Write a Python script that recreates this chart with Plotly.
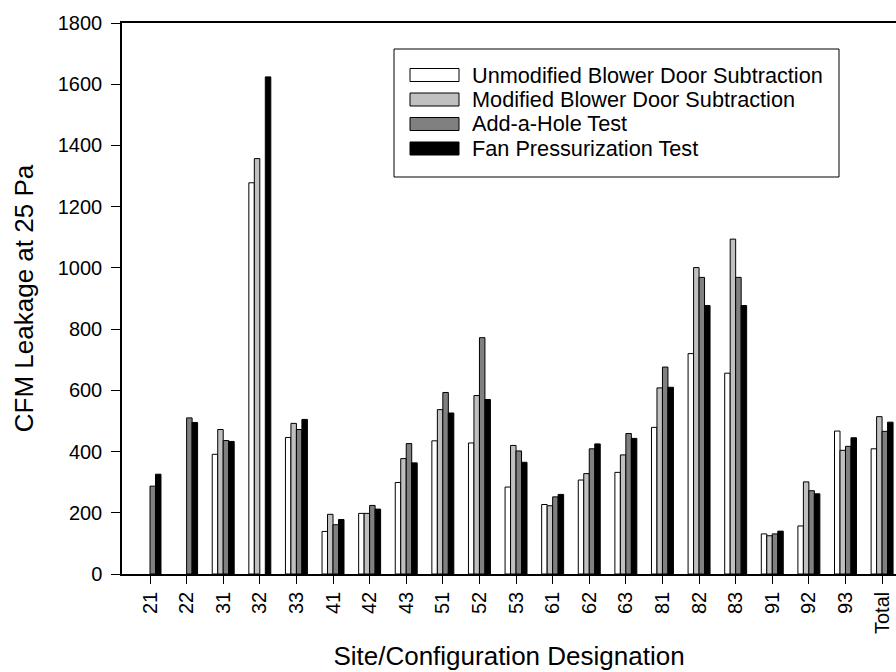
import plotly.graph_objects as go

# Site / configuration designations along the x axis
sites = ["21", "22", "31", "32", "33", "41", "42", "43", "51", "52", "53",
         "61", "62", "63", "81", "82", "83", "91", "92", "93", "Total"]

# Leakage (CFM at 25 Pa) measured by each method; None = not tested
unmodified_bds = [None, None, 391, 1278, 446, 139, 198, 299, 435, 428, 284,
                  227, 307, 332, 479, 720, 656, 131, 157, 467, 409]
modified_bds = [None, None, 472, 1357, 492, 195, 198, 377, 537, 583, 420,
                223, 328, 389, 608, 1001, 1094, 125, 301, 404, 514]
add_a_hole = [287, 510, 436, None, 472, 161, 224, 426, 593, 772, 402,
              252, 409, 459, 676, 969, 969, 131, 272, 417, 466]
fan_pressurization = [326, 495, 433, 1624, 505, 178, 212, 363, 526, 570, 365,
                      260, 425, 443, 610, 877, 877, 140, 262, 445, 496]

series_names = ["Unmodified Blower Door Subtraction",
                "Modified Blower Door Subtraction",
                "Add-a-Hole Test",
                "Fan Pressurization Test"]
series_values = [unmodified_bds, modified_bds, add_a_hole, fan_pressurization]
series_colors = ["#ffffff", "#c0c0c0", "#808080", "#000000"]

FONT = "Liberation Sans, Arial, sans-serif"
W, H = 896, 672
PL, PR, PT, PB = 122, 0, 23, 98  # plot-area margins in pixels

fig = go.Figure()
for name, vals, col in zip(series_names, series_values, series_colors):
    fig.add_trace(go.Bar(
        x=sites, y=vals, name=name,
        marker=dict(color=col, line=dict(color="#000000", width=1)),
        showlegend=False,
    ))


def px_x(px):
    return (px - PL) / (W - PL - PR)


def px_y(py):
    return (H - PB - py) / (H - PT - PB)


# Legend box drawn with wide swatches
shapes = [dict(type="rect", xref="paper", yref="paper",
               x0=px_x(394), x1=px_x(839), y0=px_y(177), y1=px_y(49),
               line=dict(color="#000000", width=1), fillcolor="#ffffff",
               layer="above")]
annotations = []
row_y = [75, 99.5, 124, 148.5]
for name, col, ry in zip(series_names, series_colors, row_y):
    shapes.append(dict(type="rect", xref="paper", yref="paper",
                       x0=px_x(410), x1=px_x(459),
                       y0=px_y(ry + 6.5), y1=px_y(ry - 6.5),
                       line=dict(color="#000000", width=1), fillcolor=col,
                       layer="above"))
    annotations.append(dict(xref="paper", yref="paper", x=px_x(470), y=px_y(ry),
                            text=name, showarrow=False, xanchor="left",
                            yanchor="middle",
                            font=dict(family=FONT, size=21.7, color="#000000")))

fig.update_layout(
    width=W, height=H,
    margin=dict(l=PL, r=PR, t=PT, b=PB, pad=0),
    paper_bgcolor="#ffffff", plot_bgcolor="#ffffff",
    barmode="group", bargap=0.4, bargroupgap=0,
    font=dict(family=FONT, size=20, color="#000000"),
    shapes=shapes, annotations=annotations,
    xaxis=dict(
        type="category", range=[-0.765, 20.38],
        showline=True, linecolor="#000000", linewidth=1.5, mirror=True,
        ticks="outside", ticklen=8, tickwidth=1, tickcolor="#000000",
        tickangle=-90, tickfont=dict(family=FONT, size=20),
        showgrid=False, zeroline=False,
        title=dict(text="Site/Configuration Designation",
                   font=dict(family=FONT, size=26), standoff=14),
    ),
    yaxis=dict(
        range=[0, 1800], dtick=200, tick0=0,
        showline=True, linecolor="#000000", linewidth=1.5,
        ticks="outside", ticklen=9, tickwidth=1, tickcolor="#000000",
        ticklabelstandoff=5,
        tickfont=dict(family=FONT, size=20),
        showgrid=False, zeroline=False,
        title=dict(text="CFM Leakage at 25 Pa",
                   font=dict(family=FONT, size=26), standoff=17),
    ),
)

fig.write_html("out.html")
